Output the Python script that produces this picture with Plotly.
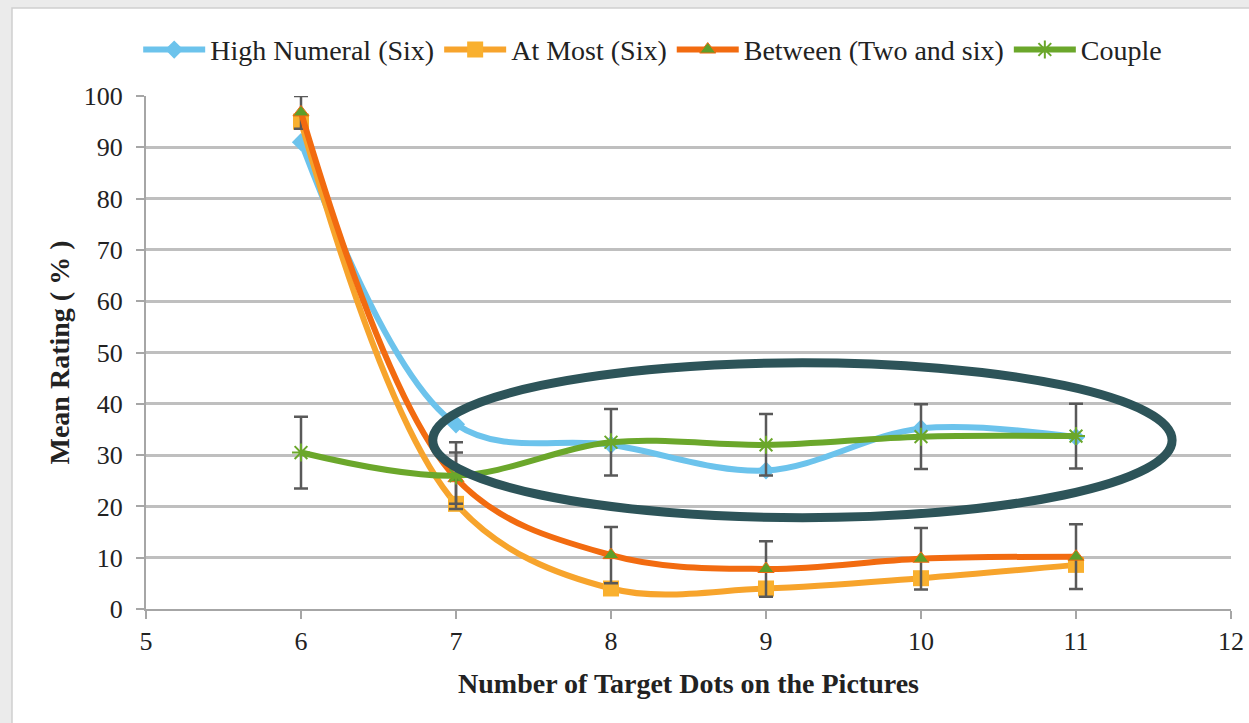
import plotly.graph_objects as go

x_vals = [6, 7, 8, 9, 10, 11]
high_numeral = [91, 36, 32, 27, 35.2, 33.5]
at_most = [95, 20.5, 4, 4, 6, 8.6]
between = [96.8, 25.5, 10.5, 7.8, 9.8, 10.2]
between_err = [3.2, 5, 5.5, 5.4, 6, 6.3]
couple = [30.5, 26, 32.5, 32, 33.6, 33.7]
couple_err = [7, 6.5, 6.5, 6, 6.3, 6.3]

legend_names = ["High Numeral (Six)", "At Most (Six)", "Between (Two and six)", "Couple"]

FONT = "Liberation Serif, Times New Roman, serif"
ERR_COLOR = "#595959"

fig = go.Figure()

fig.add_trace(go.Scatter(
    x=x_vals, y=high_numeral, name=legend_names[0], mode="lines+markers",
    line=dict(color="#6CC3EC", width=6, shape="spline", smoothing=1),
    marker=dict(symbol="diamond", size=14, color="#6CC3EC"),
))
fig.add_trace(go.Scatter(
    x=x_vals, y=at_most, name=legend_names[1], mode="lines+markers",
    line=dict(color="#F7A42C", width=6, shape="spline", smoothing=1),
    marker=dict(symbol="square", size=16, color="#F9B02E"),
))
fig.add_trace(go.Scatter(
    x=x_vals, y=between, name=legend_names[2], mode="lines+markers",
    line=dict(color="#F26B10", width=6, shape="spline", smoothing=1),
    marker=dict(symbol="triangle-up", size=14, color="#5E9E2A",
                line=dict(color="#F26B10", width=1)),
    error_y=dict(type="data", array=between_err, visible=True,
                 color=ERR_COLOR, thickness=2.5, width=7),
))
fig.add_trace(go.Scatter(
    x=x_vals, y=couple, name=legend_names[3], mode="lines+markers",
    line=dict(color="#6BA72B", width=6, shape="spline", smoothing=1),
    marker=dict(symbol="asterisk-open", size=15, color="#6BA72B",
                line=dict(color="#6BA72B", width=2)),
    error_y=dict(type="data", array=couple_err, visible=True,
                 color=ERR_COLOR, thickness=2.5, width=7),
))

# outer frame: light grey page with a white panel
fig.add_shape(type="rect", xref="paper", yref="paper",
              x0=-0.1235, x1=1.05, y0=-0.25, y1=1.1715,
              fillcolor="white", line=dict(color="#cfcfcf", width=1.5), layer="below")

# highlight ellipse
fig.add_shape(type="circle", xref="x", yref="y",
              x0=6.85, x1=11.62, y0=17.8, y1=48.0,
              line=dict(color="#2D5459", width=9), layer="above")

fig.update_layout(
    width=1249, height=723,
    margin=dict(l=146, r=18, t=96, b=114, autoexpand=False),
    paper_bgcolor="#ebebeb",
    plot_bgcolor="white",
    font=dict(family=FONT, size=26, color="#222222"),
    showlegend=True,
    legend=dict(orientation="h", x=0.467, xanchor="center", y=1.09, yanchor="middle",
                font=dict(family=FONT, size=28, color="#222222"),
                bgcolor="rgba(0,0,0,0)", itemwidth=62, traceorder="normal"),
    xaxis=dict(range=[5, 12], dtick=1, tick0=5, showgrid=False, zeroline=False,
               showline=True, linecolor="#a6a6a6", linewidth=2,
               ticks="outside", ticklen=8, tickcolor="#a6a6a6", tickwidth=2,
               tickfont=dict(family=FONT, size=26),
               title=dict(text="<b>Number of Target Dots on the Pictures</b>",
                          font=dict(family=FONT, size=28), standoff=18)),
    yaxis=dict(range=[0, 100], dtick=10, showgrid=True, gridcolor="#bfbfbf", gridwidth=2.5,
               zeroline=False, showline=True, linecolor="#a6a6a6", linewidth=2,
               ticks="outside", ticklen=8, tickcolor="#a6a6a6", tickwidth=2,
               tickfont=dict(family=FONT, size=26), ticklabelstandoff=8,
               title=dict(text="<b>Mean Rating ( % )</b>",
                          font=dict(family=FONT, size=28), standoff=6)),
)

fig.write_html(
    "out.html",
    config={"displayModeBar": False},
    post_script="document.body.style.margin='0';document.body.style.background='#ebebeb';",
)
